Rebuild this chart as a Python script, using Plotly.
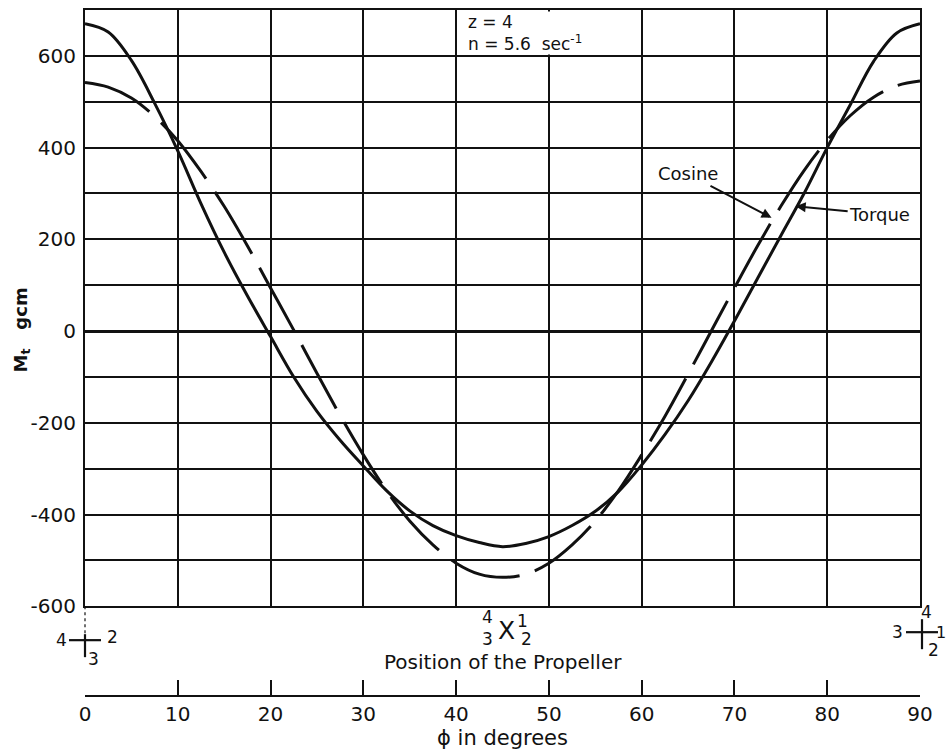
import plotly.graph_objects as go

# ---- data ----
phi = [0, 2.5, 5, 7.5, 10, 12.5, 15, 17.5, 20, 22.5, 25, 27.5, 30, 32.5, 35, 37.5,
       40, 42.5, 45, 47.5, 50, 52.5, 55, 57.5, 60, 62.5, 65, 67.5, 70, 72.5, 75,
       77.5, 80, 82.5, 85, 87.5, 90]
torque = [670, 652, 590, 497, 393, 278, 172, 77, -12, -100, -175, -238, -294, -348,
          -392, -424, -446, -461, -470, -463, -448, -424, -393, -350, -292, -226,
          -152, -68, 22, 115, 208, 300, 400, 494, 588, 650, 670]
cosine = [542, 532, 508, 468, 415, 348, 272, 186, 94, 2, -92, -184, -270, -348, -414,
          -466, -506, -530, -537, -530, -506, -466, -414, -348, -270, -186, -94, 0,
          94, 186, 272, 350, 416, 470, 510, 535, 545]

y_tickvals = [-600, -400, -200, 0, 200, 400, 600]
y_ticktext = ["-600", "-400", "-200", "0", "200", "400", "600"]
y_minorvals = [-500, -300, -100, 100, 300, 500, 700]
x_tickvals = [0, 10, 20, 30, 40, 50, 60, 70, 80, 90]
x_ticktext = ["0", "10", "20", "30", "40", "50", "60", "70", "80", "90"]

FONT = "DejaVu Sans"
INK = "#111111"

fig = go.Figure()
fig.add_trace(go.Scatter(x=phi, y=torque, mode="lines", name="Torque",
                         line=dict(color=INK, width=3, shape="spline", smoothing=1.0),
                         xaxis="x", yaxis="y", showlegend=False))
fig.add_trace(go.Scatter(x=phi, y=cosine, mode="lines", name="Cosine",
                         line=dict(color=INK, width=3, dash="72px,16px", shape="spline", smoothing=1.0),
                         xaxis="x", yaxis="y", showlegend=False))
# invisible trace to activate secondary x axis
fig.add_trace(go.Scatter(x=[0, 90], y=[None, None], mode="lines", xaxis="x2", yaxis="y",
                         showlegend=False, hoverinfo="skip"))

Y_BOT = 0.1308

fig.update_layout(
    width=948, height=752,
    margin=dict(l=85, r=28, t=8, b=56),
    paper_bgcolor="white", plot_bgcolor="white",
    font=dict(family=FONT, color=INK),
    xaxis=dict(range=[0, 90], tickvals=x_tickvals, showticklabels=False, ticks="",
               showgrid=True, gridcolor=INK, gridwidth=1.7,
               showline=True, linecolor=INK, linewidth=2, mirror=True,
               zeroline=False, anchor="y"),
    xaxis2=dict(range=[0, 90], overlaying="x", anchor="free", position=0, side="bottom",
                tickvals=x_tickvals, ticktext=x_ticktext, ticks="inside", ticklen=15,
                tickwidth=2, tickcolor=INK, showgrid=False, zeroline=False,
                showline=True, linecolor=INK, linewidth=2,
                tickfont=dict(family=FONT, size=20, color=INK),
                title=dict(text="ϕ in degrees", font=dict(family=FONT, size=21, color=INK),
                           standoff=0)),
    yaxis=dict(domain=[Y_BOT, 1], range=[-600, 700], tickvals=y_tickvals, ticktext=y_ticktext,
               ticks="", showgrid=True, gridcolor=INK, gridwidth=1.7,
               minor=dict(tickvals=y_minorvals, showgrid=True, gridcolor=INK, gridwidth=1.7, ticks=""),
               showline=True, linecolor=INK, linewidth=2, mirror=True,
               zeroline=True, zerolinecolor=INK, zerolinewidth=3.2,
               ticklabelstandoff=3,
               tickfont=dict(family=FONT, size=20, color=INK)),
)

ann = []
# y-axis title
ann.append(dict(text="M<sub>t</sub>   gcm", xref="paper", yref="paper", x=-0.0754, y=0.533,
                xanchor="center", yanchor="middle", textangle=-90, showarrow=False,
                font=dict(family=FONT, size=18, color=INK, weight="bold")))

def py2paper(py):
    return (696 - py) / 688.0

# parameter box
ann.append(dict(text="z = 4<br>n = 5.6  sec<sup>-1</sup>", xref="x", yref="paper",
                x=41.2, y=py2paper(9.5), xanchor="left", yanchor="top", align="left",
                showarrow=False, bgcolor="white", borderpad=0,
                font=dict(family=FONT, size=17, color=INK)))
# leaders
ann.append(dict(text="Cosine", xref="x", yref="y", x=74.0, y=247, ax=-84, ay=-44,
                showarrow=True, arrowhead=2, arrowsize=1, arrowwidth=2, arrowcolor=INK,
                font=dict(family=FONT, size=18, color=INK)))
ann.append(dict(text="Torque", xref="x", yref="y", x=76.6, y=272, ax=84, ay=8,
                showarrow=True, arrowhead=2, arrowsize=1, arrowwidth=2, arrowcolor=INK,
                font=dict(family=FONT, size=18, color=INK)))
# propeller position caption
ann.append(dict(text="Position of the Propeller", xref="x", yref="paper", x=45, y=0.05,
                xanchor="center", yanchor="middle", showarrow=False,
                font=dict(family=FONT, size=20, color=INK)))

# propeller blade numbering glyphs: (x value, anchor pixel row, label, dx, dy, size)
prop_labels = [
    (0, 640, "4", -24, 0, 17), (0, 640, "2", 27, 3, 17), (0, 640, "3", 8, -19, 17),
    (45, 629, "X", 4, -1, 25), (45, 629, "4", -15, 12, 17), (45, 629, "1", 20, 8, 17),
    (45, 629, "3", -15, -10, 17), (45, 629, "2", 24, -10, 17),
    (90, 632, "4", 6, 20, 17), (90, 632, "3", -23, 0, 17), (90, 632, "1", 21, 0, 16),
    (90, 632, "2", 13, -18, 17),
]
for xv, py, t, dx, dy, s in prop_labels:
    ann.append(dict(text=t, xref="x", yref="paper", x=xv, y=py2paper(py), xshift=dx, yshift=dy,
                    showarrow=False, xanchor="center", yanchor="middle",
                    font=dict(family=FONT, size=s, color=INK)))
fig.update_layout(annotations=ann)

shapes = []
# crosses at 0 and 90 degrees (pixel-sized around the axis position, paper x = value/90)
cross_parts = [
    (0, 640, -16, 16, 0, 0, "solid"), (0, 640, 0, 0, 6, -17, "solid"), (0, 640, 0, 0, 34, 6, "dot"),
    (90, 632, -14, 18, 0, 0, "solid"), (90, 632, 2, 2, 13, -17, "solid"),
]
for xv, py, x0, x1, y0, y1, d in cross_parts:
    shapes.append(dict(type="line", xref="paper", yref="paper", xsizemode="pixel", ysizemode="pixel",
                       xanchor=xv / 90.0, yanchor=py2paper(py), x0=x0, x1=x1, y0=y0, y1=y1,
                       line=dict(color=INK, width=2.2 if d == "solid" else 1.2, dash=d)))
fig.update_layout(shapes=shapes)

fig.write_html("out.html")
